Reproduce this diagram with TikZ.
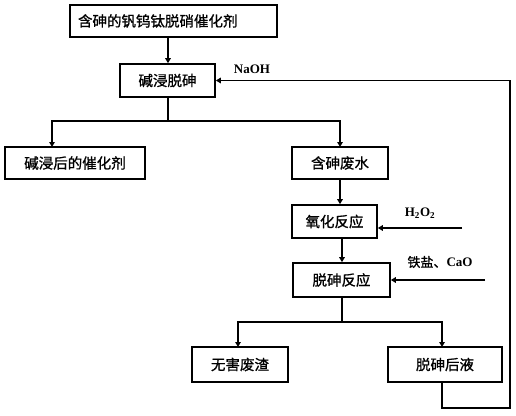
\documentclass[tikz,border=0pt]{standalone}
\usepackage{fontspec}
\newfontfamily\cjk[AutoFakeBold=1.0]{Noto Sans CJK SC}
\newfontfamily\lab{Liberation Serif}
\usetikzlibrary{arrows.meta}
\begin{document}
\begin{tikzpicture}[x=1pt,y=-1pt,
  box/.style={draw,line width=1.6pt,inner sep=0pt,font=\cjk\bfseries\fontsize{14.5}{16}\selectfont},
  ln/.style={line width=1.6pt},
  arr/.style={line width=1.6pt,-{Triangle[length=5pt,width=5.5pt]}},
  lbl/.style={font=\lab\bfseries\fontsize{13}{15}\selectfont,inner sep=0pt}]
\useasboundingbox (0,0) rectangle (516,415);
\node[box,minimum width=207pt,minimum height=32pt,text width=195pt,align=left] (b1) at (173.5,21) {\hspace*{2pt}含砷的钒钨钛脱硝催化剂};
\node[box,minimum width=95pt,minimum height=33pt] (b2) at (167.5,80.5) {碱浸脱砷};
\node[box,minimum width=140pt,minimum height=32pt] (b3) at (75,163) {碱浸后的催化剂};
\node[box,minimum width=96pt,minimum height=32pt] (b4) at (340,163) {含砷废水};
\node[box,minimum width=85pt,minimum height=33pt] (b5) at (334.5,221.5) {氧化反应};
\node[box,minimum width=97pt,minimum height=34pt] (b6) at (341.5,280) {脱砷反应};
\node[box,minimum width=96pt,minimum height=35pt] (b7) at (240,364.5) {无害废渣};
\node[box,minimum width=114pt,minimum height=35pt] (b8) at (445,364.5) {脱砷后液};
\node[lbl] (naoh) at (252,69) {NaOH};
\node[lbl] (h2o2) at (420,213) {H\textsubscript{2}O\textsubscript{2}};
\node[lbl,font=\cjk\bfseries\fontsize{13}{15}\selectfont] (fe) at (440,262) {铁盐、{\lab\bfseries CaO}};
\coordinate (j1) at (168,121);
\coordinate (t3) at (52,147);
\coordinate (t4) at (340,147);
\coordinate (j2) at (342,322);
\coordinate (t7) at (238,347);
\coordinate (t8) at (442,347);
\coordinate (s8) at (442,382);
\coordinate (c1) at (442,408);
\coordinate (c2) at (510,408);
\coordinate (c3) at (510,80.5);
\coordinate (h0) at (462,228);
\coordinate (f0) at (485,280);
\draw[arr] (b1.south -| j1) -- (b2.north -| j1);
\draw[ln] (b2.south -| j1) -- (j1);
\draw[arr] (j1) -| (t3);
\draw[arr] (j1) -| (t4);
\draw[arr] (b4.south) -- (b5.north -| b4.south);
\draw[arr] (b5.south -| j2) -- (b6.north -| j2);
\draw[ln] (b6.south -| j2) -- (j2);
\draw[arr] (j2) -| (t7);
\draw[arr] (j2) -| (t8);
\draw[arr] (s8) -- (c1) -- (c2) -- (c3) -- (b2.east);
\draw[arr] (h0) -- (b5.east |- h0);
\draw[arr] (f0) -- (b6.east |- f0);
\end{tikzpicture}
\end{document}
